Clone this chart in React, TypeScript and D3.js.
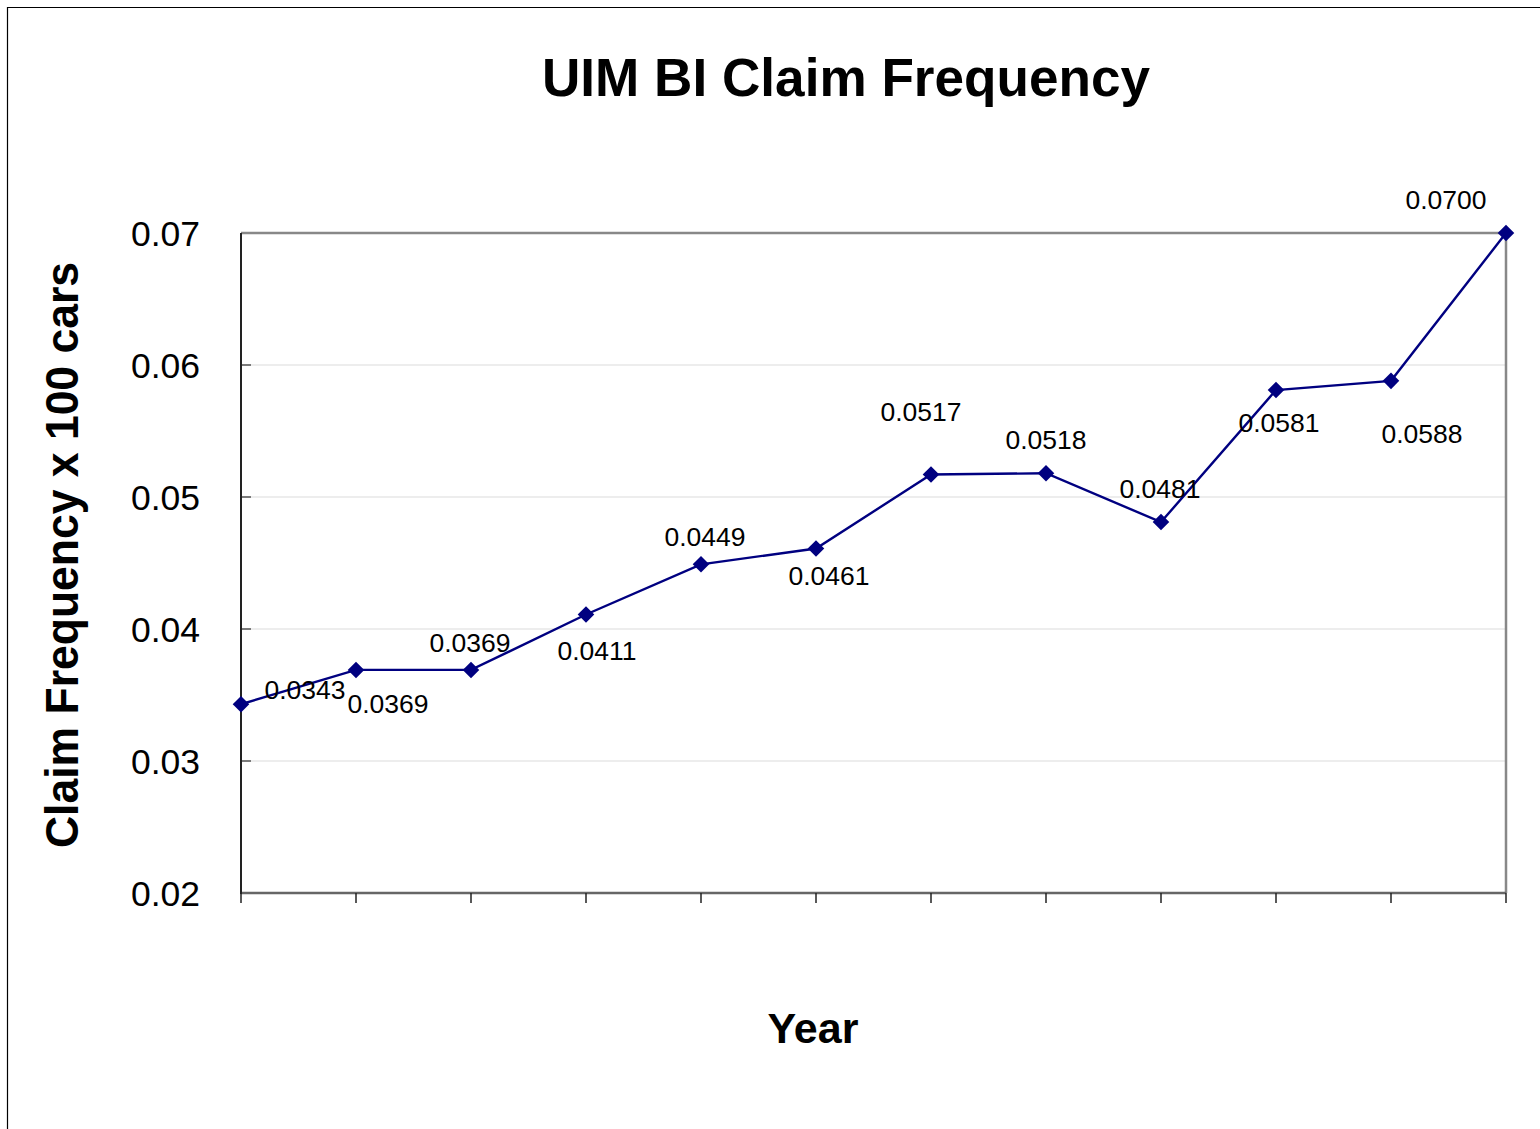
import React from "react";
import * as d3 from "d3";

// ---- data ----
const years = ["1", "2", "3", "4", "5", "6", "7", "8", "9", "10", "11", "12"];
const frequency = [0.0343, 0.0369, 0.0369, 0.0411, 0.0449, 0.0461, 0.0517, 0.0518, 0.0481, 0.0581, 0.0588, 0.07];
const valueLabels = ["0.0343", "0.0369", "0.0369", "0.0411", "0.0449", "0.0461", "0.0517", "0.0518", "0.0481", "0.0581", "0.0588", "0.0700"];
const yTicks = [0.02, 0.03, 0.04, 0.05, 0.06, 0.07];
const yTickLabels = ["0.02", "0.03", "0.04", "0.05", "0.06", "0.07"];

// layout: label offsets (center relative to point)
const labelOffsets: [number, number][] = [
  [64, -14], [32, 34], [-1, -27], [11, 37], [4, -27], [13, 28],
  [-10, -63], [0, -33], [-1, -33], [3, 33], [31, 53], [-60, -33],
];

const W = 1540;
const H = 1129;
const L = 241, R = 1506, T = 233, B = 893;
const FONT = "'Liberation Sans', Arial, Helvetica, sans-serif";
const NAVY = "#000080";

export default function App() {
  const x = d3.scalePoint<string>().domain(years).range([L, R]);
  const y = d3.scaleLinear().domain([0.02, 0.07]).range([B, T]);
  const line = d3
    .line<number>()
    .x((_, i) => x(years[i]) as number)
    .y((d) => y(d));
  const diamond = d3.symbol().type(d3.symbolDiamond2).size(175)() as string;

  return (
    <svg
      width={W}
      height={H}
      style={{ position: "absolute", left: 0, top: 0, background: "#fff" }}
      fontFamily={FONT}
    >
      <rect x={0} y={0} width={W} height={H} fill="#fff" />
      {/* outer frame */}
      <line x1={7.5} y1={7} x2={7.5} y2={H} stroke="#000" strokeWidth={1.2} />
      <line x1={7} y1={7.5} x2={W} y2={7.5} stroke="#000" strokeWidth={1.2} />

      {/* title */}
      <text
        x={846}
        y={96}
        textAnchor="middle"
        fontSize={54}
        fontWeight="bold"
        textLength={608}
        lengthAdjust="spacingAndGlyphs"
      >
        UIM BI Claim Frequency
      </text>

      {/* gridlines */}
      {yTicks.slice(1, -1).map((t) => (
        <line key={t} x1={L} x2={R} y1={y(t)} y2={y(t)} stroke="#dcdcdc" strokeWidth={1.2} />
      ))}
      {/* y tick marks (inward) */}
      {yTicks.map((t) => (
        <line key={"yt" + t} x1={L} x2={L + 10} y1={y(t)} y2={y(t)} stroke="#555" strokeWidth={1.5} />
      ))}
      {/* plot frame */}
      <line x1={L} x2={R} y1={T} y2={T} stroke="#888" strokeWidth={2.5} />
      <line x1={R} x2={R} y1={T} y2={B} stroke="#888" strokeWidth={2.5} />
      <line x1={L} x2={R} y1={B} y2={B} stroke="#666" strokeWidth={2.5} />
      <line x1={L} x2={L} y1={T} y2={B + 1} stroke="#222" strokeWidth={2} />
      {/* x ticks */}
      {years.map((yr) => (
        <line key={"xt" + yr} x1={x(yr)} x2={x(yr)} y1={B} y2={B + 10} stroke="#222" strokeWidth={1.5} />
      ))}

      {/* y tick labels */}
      {yTicks.map((t, i) => (
        <text key={"yl" + t} x={200} y={y(t) + 12.5} textAnchor="end" fontSize={35.5} fill="#000">
          {yTickLabels[i]}
        </text>
      ))}

      {/* series */}
      <path d={line(frequency) as string} fill="none" stroke={NAVY} strokeWidth={2.4} />
      {frequency.map((v, i) => (
        <path key={"m" + i} d={diamond} transform={`translate(${x(years[i])},${y(v)})`} fill={NAVY} />
      ))}
      {frequency.map((v, i) => (
        <text
          key={"dl" + i}
          x={(x(years[i]) as number) + labelOffsets[i][0]}
          y={y(v) + labelOffsets[i][1] + 9}
          textAnchor="middle"
          fontSize={26.5}
          fill="#000"
        >
          {valueLabels[i]}
        </text>
      ))}

      {/* axis titles */}
      <text
        transform={`translate(78,555) rotate(-90)`}
        textAnchor="middle"
        fontSize={46}
        fontWeight="bold"
        textLength={586}
        lengthAdjust="spacingAndGlyphs"
      >
        Claim Frequency x 100 cars
      </text>
      <text x={813} y={1043} textAnchor="middle" fontSize={43} fontWeight="bold">
        Year
      </text>
    </svg>
  );
}
